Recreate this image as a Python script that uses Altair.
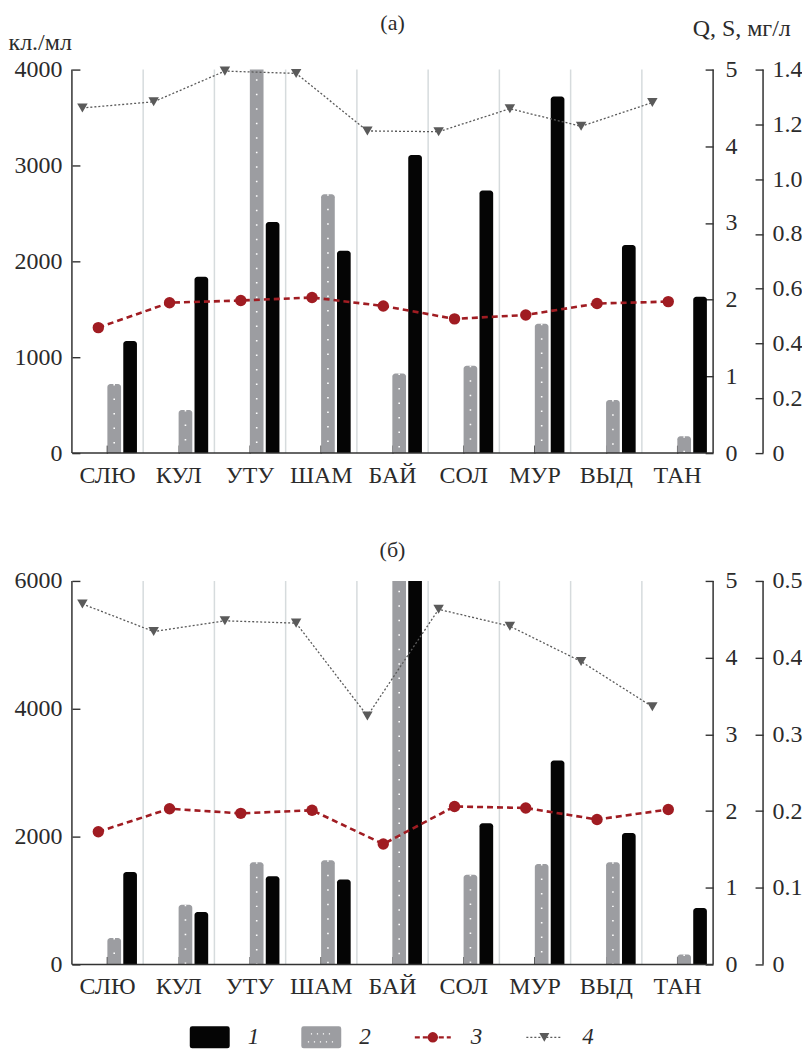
import altair as alt
import pandas as pd

# ---------------- data ----------------
cats = ["СЛЮ", "КУЛ", "УТУ", "ШАМ", "БАЙ", "СОЛ", "МУР", "ВЫД", "ТАН"]

# panel (а)
a_s1 = [1170, 1840, 2410, 2110, 3110, 2740, 3720, 2170, 1630]
a_s2 = [720, 450, 4200, 2700, 830, 910, 1350, 555, 175]
a_s3 = [0.458, 0.549, 0.557, 0.568, 0.537, 0.490, 0.504, 0.546, 0.553]
a_s4 = [4.50, 4.58, 4.98, 4.95, 4.20, 4.19, 4.49, 4.26, 4.57]

# panel (б)
b_s1 = [1445, 820, 1380, 1330, 6300, 2210, 3190, 2055, 885]
b_s2 = [415, 935, 1600, 1630, 6300, 1405, 1570, 1600, 155]
b_s3 = [0.173, 0.203, 0.197, 0.201, 0.157, 0.206, 0.204, 0.189, 0.202]
b_s4 = [4.70, 4.34, 4.48, 4.45, 3.24, 4.63, 4.41, 3.95, 3.36]

left_ticks_a = [0, 1000, 2000, 3000, 4000]
left_ticks_b = [0, 2000, 4000, 6000]
right_ticks = [0, 1, 2, 3, 4, 5]
third_ticks_a = [0, 0.2, 0.4, 0.6, 0.8, 1.0, 1.2, 1.4]
third_ticks_b = [0, 0.1, 0.2, 0.3, 0.4, 0.5]

legend_items = ["1", "2", "3", "4"]
slots = ["4", "3", "2", "1"]

# ---------------- style ----------------
W, H = 642, 384
FONT = "Liberation Serif, Times New Roman, serif"
TXT = "#2b2b2b"
AXC = "#333333"
GRID = "#d6dbdd"
BLACK = "#050505"
GRAY = "#9c9da1"
RED = "#a01c22"
DGRAY = "#5a5a5a"
FS = 24

xscale = alt.Scale(domain=cats, paddingInner=0, paddingOuter=0)
oscale = alt.Scale(domain=slots, paddingInner=0.14, paddingOuter=0.31, align=0.37)

xaxis = alt.Axis(title=None, labelFont=FONT, labelFontSize=FS, labelColor=TXT, labelAngle=0,
                 domain=False, ticks=True, tickSize=8, tickColor=AXC, tickWidth=1.4,
                 offset=-8, labelPadding=10, grid=False)


def X():
    return alt.X("cat:N", scale=xscale, axis=xaxis)


def panel(s1, s2, s3, s4, lticks, t3ticks, label, first):
    lmax = lticks[-1]
    r3max = t3ticks[-1]
    b1_df = pd.DataFrame({"cat": cats, "slot": ["1"] * len(cats), "value": s1})
    b2_df = pd.DataFrame({"cat": cats, "slot": ["2"] * len(cats), "value": s2})
    l3_df = pd.DataFrame({"cat": cats, "slot": ["3"] * len(cats), "v3": s3})
    l4_df = pd.DataFrame({"cat": cats, "slot": ["4"] * len(cats), "v4": s4})
    grid_df = pd.DataFrame({"cat": cats[1:]})
    xo = alt.XOffset("slot:N", scale=oscale)

    laxis = dict(values=lticks, format="d", orient="left", offset=-8, domain=False,
                 tickSize=8, tickColor=AXC, tickWidth=1.4, labelPadding=10, grid=False,
                 labelFont=FONT, labelFontSize=FS, labelColor=TXT)
    if first:
        laxis.update(title="кл./мл", titleAngle=0, titleAlign="left", titleBaseline="alphabetic",
                     titleX=-72, titleY=-20, titleFont=FONT, titleFontSize=FS,
                     titleFontWeight="normal", titleColor=TXT)
    else:
        laxis.update(title=None)
    lscale = alt.Scale(domain=[0, lmax])

    grid = alt.Chart(grid_df).mark_rule(color=GRID, strokeWidth=1.5).encode(
        x=alt.X("cat:N", scale=xscale, bandPosition=0, axis=xaxis),
        y=alt.value(0), y2=alt.value(H),
    )

    bkw = dict(cornerRadiusTopLeft=3, cornerRadiusTopRight=3, clip=True)
    bars = alt.layer(
        alt.Chart(b2_df).mark_bar(color=GRAY, **bkw).encode(
            x=X(), xOffset=xo, y=alt.Y("value:Q", scale=lscale, stack=None, axis=alt.Axis(**laxis))),
        alt.Chart(b1_df).mark_bar(color=BLACK, **bkw).encode(
            x=X(), xOffset=xo, y=alt.Y("value:Q", scale=lscale, stack=None, axis=alt.Axis(**laxis))),
        alt.Chart(b2_df).mark_rule(color="white", strokeWidth=1.6, strokeDash=[1.5, 13], clip=True).encode(
            x=X(), xOffset=xo, y=alt.Y("value:Q", scale=lscale, axis=alt.Axis(**laxis)), y2=alt.datum(0)),
    )

    r2axis = dict(orient="right", offset=-8, values=right_ticks, domain=False, tickSize=8,
                  tickColor=AXC, tickWidth=1.4, labelPadding=12, grid=False,
                  labelFont=FONT, labelFontSize=FS, labelColor=TXT)
    if first:
        r2axis.update(title="Q, S, мг/л", titleAngle=0, titleAlign="left", titleBaseline="alphabetic",
                      titleX=-13, titleY=-34, titleFont=FONT, titleFontSize=FS,
                      titleFontWeight="normal", titleColor=TXT)
    else:
        r2axis.update(title=None)
    s4scale = alt.Scale(domain=[0, 5])
    l4 = alt.layer(
        alt.Chart(l4_df).mark_line(color=DGRAY, strokeWidth=1.3, strokeDash=[2, 2]).encode(
            x=X(), xOffset=xo, y=alt.Y("v4:Q", scale=s4scale, axis=alt.Axis(**r2axis))),
        alt.Chart(l4_df).mark_point(shape="triangle-down", filled=True, size=110, color=DGRAY, opacity=1).encode(
            x=X(), xOffset=xo, y=alt.Y("v4:Q", scale=s4scale, axis=alt.Axis(**r2axis))),
    )

    r3axis = dict(orient="right", offset=42, values=t3ticks, domain=False, tickSize=8,
                  tickColor=AXC, tickWidth=1.4, labelPadding=9, grid=False,
                  labelExpr="datum.value == 0 ? '0' : format(datum.value, '.1f')",
                  labelFont=FONT, labelFontSize=FS, labelColor=TXT, title=None)
    s3scale = alt.Scale(domain=[0, r3max])
    l3 = alt.layer(
        alt.Chart(l3_df).mark_line(color=RED, strokeWidth=2.6, strokeDash=[6, 4]).encode(
            x=X(), xOffset=xo, y=alt.Y("v3:Q", scale=s3scale, axis=alt.Axis(**r3axis))),
        alt.Chart(l3_df).mark_point(shape="circle", filled=True, size=130, color=RED, opacity=1).encode(
            x=X(), xOffset=xo, y=alt.Y("v3:Q", scale=s3scale, axis=alt.Axis(**r3axis))),
    )

    d = pd.DataFrame({"k": [0]})
    dom_left = alt.Chart(d).mark_rule(color=AXC, strokeWidth=1.5).encode(
        x=alt.value(0), y=alt.value(0), y2=alt.value(H))
    dom_bottom = alt.Chart(d).mark_rule(color=AXC, strokeWidth=1.5).encode(
        x=alt.value(0), x2=alt.value(W), y=alt.value(H))
    dom_r2 = alt.Chart(d).mark_rule(color=AXC, strokeWidth=1.5).encode(
        x=alt.value(W), y=alt.value(0), y2=alt.value(H))
    dom_r3 = alt.Chart(d).mark_rule(color=AXC, strokeWidth=1.5).encode(
        x=alt.value(W + 50), y=alt.value(0), y2=alt.value(H))

    title_y = -40 if first else -24
    ttl = alt.Chart(pd.DataFrame({"t": [label]})).mark_text(
        font=FONT, fontSize=FS - 2, color=TXT, align="center", baseline="alphabetic").encode(
        text="t:N", x=alt.value(W / 2), y=alt.value(title_y))

    layer = alt.layer(grid, bars, l4, l3,
                      dom_left, dom_bottom, dom_r2, dom_r3, ttl).resolve_scale(y="independent")
    return layer.properties(width=W, height=H)


pa = panel(a_s1, a_s2, a_s3, a_s4, left_ticks_a, third_ticks_a, "(а)", True)
pb = panel(b_s1, b_s2, b_s3, b_s4, left_ticks_b, third_ticks_b, "(б)", False)

# ---------------- legend ----------------
leg_df = pd.DataFrame({"item": legend_items})
lx = alt.X("item:N", scale=alt.Scale(type="point", domain=legend_items, range=[138, 473], padding=0),
           axis=None)
RECT = ("M-0.88,-0.55H0.88Q1,-0.55 1,-0.43V0.43Q1,0.55 0.88,0.55H-0.88"
        "Q-1,0.55 -1,0.43V-0.43Q-1,-0.55 -0.88,-0.55Z")
LINE = "M-1,0H1"
DOTS = ("M-0.52,-0.2h0.06v0.06h-0.06Z M-0.22,-0.2h0.06v0.06h-0.06Z M0.08,-0.2h0.06v0.06h-0.06Z "
        "M0.38,-0.2h0.06v0.06h-0.06Z M-0.67,0.2h0.06v0.06h-0.06Z M-0.37,0.2h0.06v0.06h-0.06Z "
        "M-0.07,0.2h0.06v0.06h-0.06Z M0.23,0.2h0.06v0.06h-0.06Z M0.53,0.2h0.06v0.06h-0.06Z")

leg_rect = alt.Chart(leg_df).transform_filter("datum.item == '1' || datum.item == '2'").mark_point(
    shape=RECT, filled=True, size=1600, opacity=1).encode(
    x=lx, y=alt.value(10),
    color=alt.Color("item:N", scale=alt.Scale(domain=["1", "2"], range=[BLACK, GRAY]), legend=None))
leg_dots = alt.Chart(leg_df).transform_filter("datum.item == '2'").mark_point(
    shape=DOTS, filled=True, size=1600, color="white", opacity=1).encode(x=lx, y=alt.value(10))
leg_l3 = alt.Chart(leg_df).transform_filter("datum.item == '3'").mark_point(
    shape=LINE, filled=False, size=1296, color=RED, strokeWidth=2.4, strokeDash=[5, 3], opacity=1).encode(
    x=lx, y=alt.value(10))
leg_p3 = alt.Chart(leg_df).transform_filter("datum.item == '3'").mark_point(
    shape="circle", filled=True, size=110, color=RED, opacity=1).encode(x=lx, y=alt.value(10))
leg_l4 = alt.Chart(leg_df).transform_filter("datum.item == '4'").mark_point(
    shape=LINE, filled=False, size=1296, color=DGRAY, strokeWidth=1.3, strokeDash=[2, 2], opacity=1).encode(
    x=lx, y=alt.value(10))
leg_p4 = alt.Chart(leg_df).transform_filter("datum.item == '4'").mark_point(
    shape="triangle-down", filled=True, size=100, color=DGRAY, opacity=1).encode(x=lx, y=alt.value(10))
leg_txt = alt.Chart(leg_df).mark_text(font=FONT, fontSize=FS - 1, fontStyle="italic", color=TXT,
                                      align="left", baseline="middle", dx=38).encode(
    x=lx, y=alt.value(10), text="item:N")

legend = alt.layer(leg_rect, leg_dots, leg_l3, leg_p3, leg_l4, leg_p4, leg_txt).properties(width=W, height=20)

chart = alt.vconcat(
    alt.vconcat(pa, pb, spacing=52),
    legend,
    spacing=28,
).properties(padding={"left": 0, "top": 3, "right": 0, "bottom": 0}).configure_view(stroke=None)

chart.save("out.html", embed_options={"renderer": "svg", "actions": False})
